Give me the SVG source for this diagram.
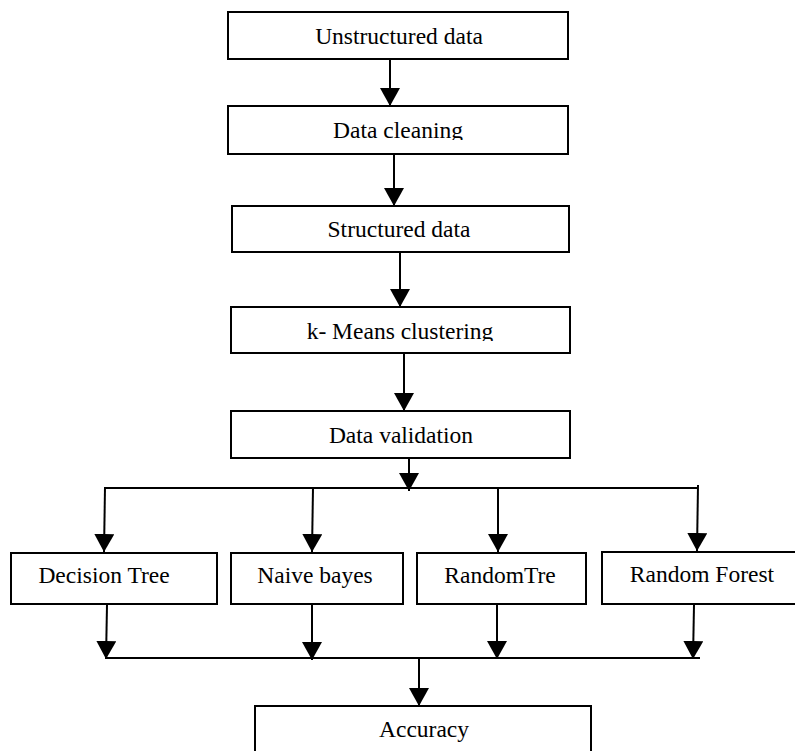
<svg xmlns="http://www.w3.org/2000/svg" width="795" height="751" viewBox="0 0 795 751">
<style>
.box{fill:#fff;stroke:#000;stroke-width:2}
.lbl{font-family:"Liberation Serif","Times New Roman",serif;font-size:23.5px;fill:#000;text-anchor:middle}
.ln{fill:none;stroke:#000;stroke-width:2}
.ar{fill:none;stroke:#000;stroke-width:2;marker-end:url(#ah)}
</style>
<defs>
<marker id="ah" markerUnits="userSpaceOnUse" viewBox="0 -10 18 20" refX="18" refY="0" markerWidth="18" markerHeight="20" orient="auto">
<path d="M0,-10 L18,0 L0,10 z" fill="#000"/>
</marker>
<clipPath id="c2"><rect x="228" y="106" width="340" height="34"/></clipPath>
<clipPath id="c4"><rect x="231" y="307" width="339" height="34"/></clipPath>
</defs>
<rect width="795" height="751" fill="#fff"/>
<g id="connectors">
<line class="ar" x1="390" y1="60" x2="390" y2="106"/>
<line class="ar" x1="394" y1="155" x2="394" y2="206"/>
<line class="ar" x1="400" y1="253" x2="400" y2="307"/>
<line class="ar" x1="404" y1="354" x2="404" y2="411"/>
<line class="ar" x1="409" y1="459" x2="409" y2="491"/>
<line class="ln" x1="105" y1="488" x2="698" y2="488"/>
<line class="ar" x1="105" y1="487" x2="104" y2="552"/>
<line class="ar" x1="313" y1="488" x2="312" y2="552"/>
<line class="ar" x1="498" y1="488" x2="498" y2="552"/>
<line class="ar" x1="698" y1="485" x2="697" y2="551"/>
<line class="ar" x1="107" y1="605" x2="106" y2="659"/>
<line class="ar" x1="312" y1="605" x2="312" y2="660"/>
<line class="ar" x1="497" y1="605" x2="497" y2="659"/>
<line class="ar" x1="694" y1="605" x2="693" y2="659"/>
<line class="ln" x1="105" y1="658" x2="700" y2="658"/>
<line class="ar" x1="419" y1="658" x2="419" y2="706"/>
</g>
<g id="unstructured"><rect class="box" x="228" y="12" width="340" height="47"/><text class="lbl" x="399" y="44">Unstructured data</text></g>
<g id="cleaning"><rect class="box" x="228" y="106" width="340" height="48"/><text class="lbl" x="398" y="138" clip-path="url(#c2)">Data cleaning</text></g>
<g id="structured"><rect class="box" x="232" y="206" width="337" height="46"/><text class="lbl" x="399" y="237">Structured data</text></g>
<g id="kmeans"><rect class="box" x="231" y="307" width="339" height="46"/><text class="lbl" x="400" y="339" clip-path="url(#c4)">k- Means clustering</text></g>
<g id="validation"><rect class="box" x="231" y="411" width="339" height="47"/><text class="lbl" x="401" y="443">Data validation</text></g>
<g id="dtree"><rect class="box" x="11" y="553" width="206" height="51"/><text class="lbl" x="104" y="583">Decision Tree</text></g>
<g id="nbayes"><rect class="box" x="231" y="553" width="172" height="51"/><text class="lbl" x="315" y="583">Naive bayes</text></g>
<g id="randomtre"><rect class="box" x="417" y="553" width="169" height="51"/><text class="lbl" x="500" y="583">RandomTre</text></g>
<g id="rforest"><rect class="box" x="602" y="552" width="200" height="52"/><text class="lbl" x="702" y="582">Random Forest</text></g>
<g id="accuracy"><rect class="box" x="255" y="706" width="336" height="60"/><text class="lbl" x="424" y="737">Accuracy</text></g>
</svg>
